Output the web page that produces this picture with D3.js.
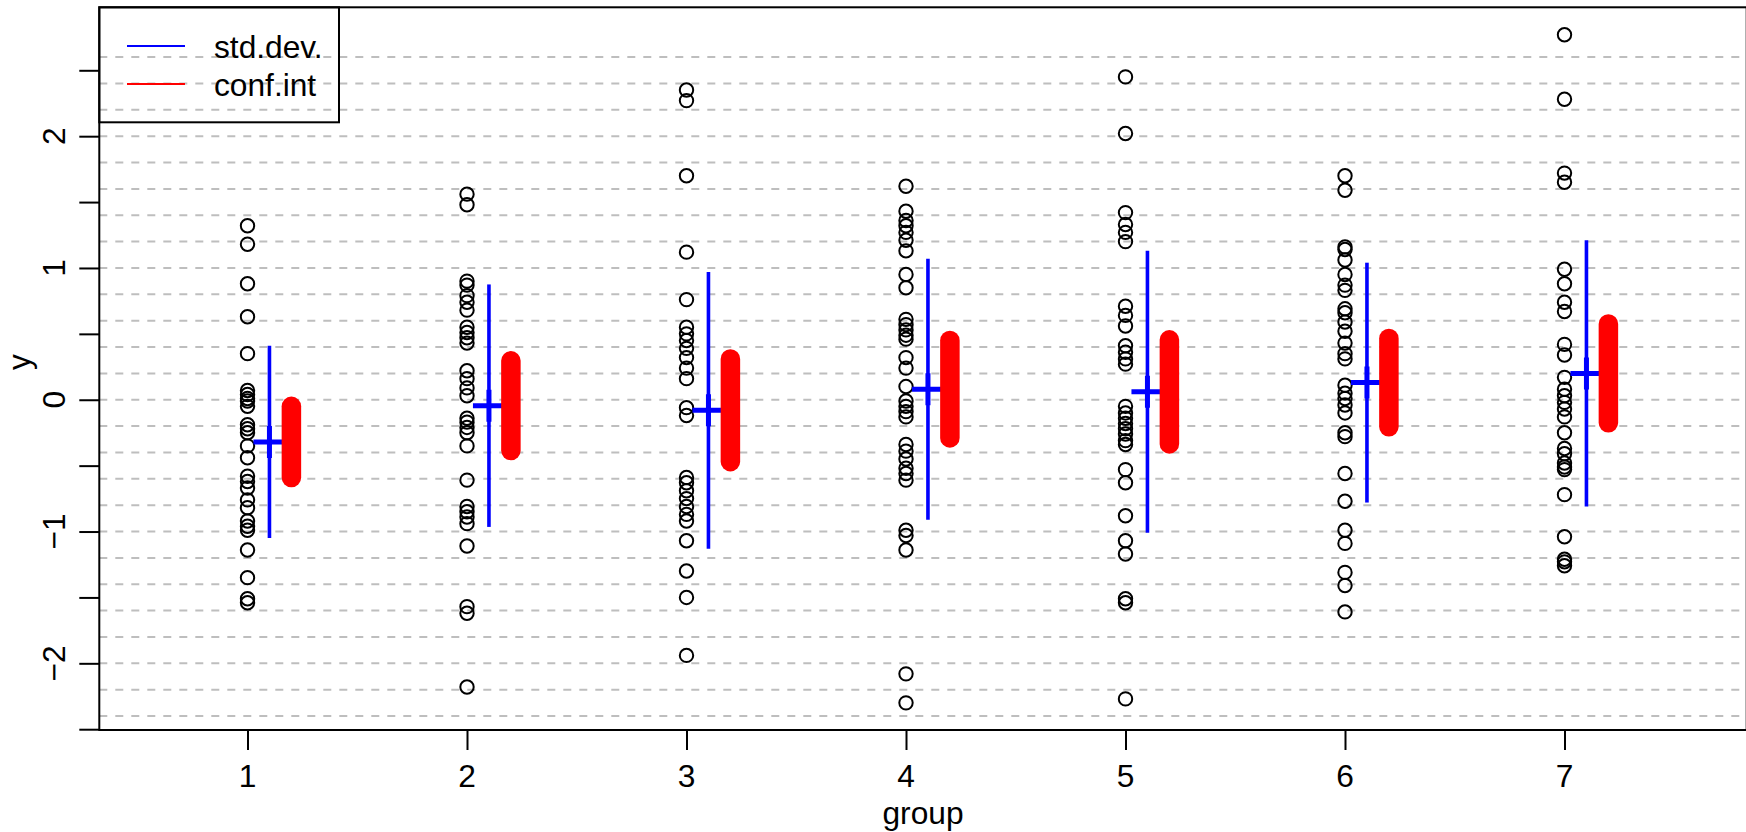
<!DOCTYPE html>
<html>
<head>
<meta charset="utf-8">
<script src="https://cdn.jsdelivr.net/npm/d3@7"></script>
<style>
  html, body { margin: 0; padding: 0; background: #ffffff; }
  svg { display: block; }
  text { font-family: "Liberation Sans", Arial, Helvetica, sans-serif; }
</style>
</head>
<body>
<svg id="chart" width="1746" height="832"></svg>
<script>
// Observations per group
const group1 = [1.32, 1.18, 0.88, 0.63, 0.35, 0.07, 0.04, 0.01, -0.01, -0.05, -0.19, -0.22, -0.25, -0.35, -0.44, -0.58, -0.62, -0.67, -0.76, -0.82, -0.92, -0.96, -0.99, -1.14, -1.35, -1.51, -1.54];
const group2 = [1.56, 1.48, 0.90, 0.87, 0.79, 0.74, 0.68, 0.55, 0.51, 0.47, 0.43, 0.22, 0.16, 0.09, 0.03, -0.14, -0.17, -0.21, -0.25, -0.35, -0.61, -0.81, -0.85, -0.89, -0.94, -1.11, -1.57, -1.62, -2.18];
const group3 = [2.35, 2.27, 1.70, 1.12, 0.76, 0.55, 0.50, 0.45, 0.39, 0.32, 0.24, 0.16, -0.06, -0.12, -0.59, -0.63, -0.69, -0.75, -0.81, -0.87, -0.92, -1.07, -1.30, -1.50, -1.94];
const group4 = [1.62, 1.43, 1.36, 1.32, 1.27, 1.21, 1.13, 0.95, 0.85, 0.61, 0.57, 0.53, 0.49, 0.46, 0.32, 0.24, 0.10, -0.01, -0.05, -0.09, -0.13, -0.34, -0.39, -0.45, -0.52, -0.56, -0.61, -0.99, -1.03, -1.14, -2.08, -2.30];
const group5 = [2.45, 2.02, 1.42, 1.33, 1.27, 1.20, 0.71, 0.64, 0.56, 0.41, 0.36, 0.31, 0.27, -0.05, -0.10, -0.14, -0.18, -0.22, -0.26, -0.31, -0.34, -0.53, -0.63, -0.88, -1.07, -1.17, -1.51, -1.54, -2.27];
const group6 = [1.70, 1.59, 1.16, 1.14, 1.06, 0.95, 0.87, 0.83, 0.69, 0.66, 0.59, 0.52, 0.43, 0.35, 0.31, 0.11, 0.05, 0.01, -0.04, -0.10, -0.25, -0.28, -0.56, -0.77, -0.99, -1.09, -1.31, -1.41, -1.61];
const group7 = [2.77, 2.28, 1.72, 1.65, 0.99, 0.88, 0.74, 0.67, 0.42, 0.34, 0.17, 0.08, 0.03, -0.02, -0.07, -0.13, -0.25, -0.37, -0.41, -0.48, -0.51, -0.53, -0.72, -1.04, -1.21, -1.23, -1.26];

// Group ids and per-group summaries
const groups = [1, 2, 3, 4, 5, 6, 7];
const groupMeans = [-0.32, -0.045, -0.08, 0.08, 0.06, 0.13, 0.20];
const groupSDs = [0.73, 0.92, 1.05, 0.99, 1.07, 0.91, 1.01];
const groupCIHalf = [0.27, 0.34, 0.39, 0.37, 0.395, 0.335, 0.375];

// Axis ticks
const yTicks = [-2.5, -2, -1.5, -1, -0.5, 0, 0.5, 1, 1.5, 2, 2.5];
const yTickLabels = [-2, -1, 0, 1, 2];
const xTickLabels = ["1", "2", "3", "4", "5", "6", "7"];
const legendLabels = ["std.dev.", "conf.int"];
const legendColors = ["#0000ff", "#ff0000"];

const groupValues = [group1, group2, group3, group4, group5, group6, group7];

const svg = d3.select("#chart");
const FONT = 31.7;

const x = d3.scaleLinear().domain([1, 7]).range([247.5, 1564.5]);
const y = d3.scaleLinear().domain([-2.506, 2.978]).range([730, 7.3]);

const plotLeft = 99.3, plotTop = y(2.978), plotBottom = y(-2.506), plotRight = x(7.83);

// dashed horizontal reference lines
const gridLevels = d3.range(-12, 14).map(k => k * 0.2);
svg.append("g")
  .selectAll("line")
  .data(gridLevels)
  .join("line")
  .attr("x1", plotLeft).attr("x2", plotRight)
  .attr("y1", d => y(d)).attr("y2", d => y(d))
  .attr("stroke", "#bebebe")
  .attr("stroke-width", 2)
  .attr("stroke-dasharray", "8,8");

// raw observations
const pts = groups.flatMap((g, i) => groupValues[i].map(v => ({ g, v })));
svg.append("g")
  .selectAll("circle")
  .data(pts)
  .join("circle")
  .attr("cx", d => x(d.g))
  .attr("cy", d => y(d.v))
  .attr("r", 6.7)
  .attr("fill", "none")
  .attr("stroke", "#000")
  .attr("stroke-width", 2);

// mean +/- one standard deviation
const summaries = groups.map((g, i) => ({
  g, m: groupMeans[i], sd: groupSDs[i], ci: groupCIHalf[i]
}));

svg.append("g")
  .selectAll("line")
  .data(summaries)
  .join("line")
  .attr("x1", d => x(d.g + 0.1)).attr("x2", d => x(d.g + 0.1))
  .attr("y1", d => y(d.m - d.sd)).attr("y2", d => y(d.m + d.sd))
  .attr("stroke", "#0000ff")
  .attr("stroke-width", 3.6);

// mean marker
svg.append("g")
  .selectAll("path")
  .data(summaries)
  .join("path")
  .attr("d", d => {
    const cx = x(d.g + 0.1), cy = y(d.m), a = 16;
    return `M${cx - a},${cy}H${cx + a}M${cx},${cy - a}V${cy + a}`;
  })
  .attr("stroke", "#0000ff")
  .attr("stroke-width", 5)
  .attr("fill", "none");

// confidence interval of the mean
svg.append("g")
  .selectAll("line")
  .data(summaries)
  .join("line")
  .attr("x1", d => x(d.g + 0.2)).attr("x2", d => x(d.g + 0.2))
  .attr("y1", d => y(d.m - d.ci)).attr("y2", d => y(d.m + d.ci))
  .attr("stroke", "#ff0000")
  .attr("stroke-width", 19.5)
  .attr("stroke-linecap", "round");

// y axis
const yAxis = d3.axisLeft(y).tickValues(yTicks).tickSize(20).tickSizeOuter(0).tickFormat("");
const gy = svg.append("g").attr("transform", `translate(${plotLeft},0)`).call(yAxis);
gy.select(".domain").remove();
gy.selectAll(".tick line").attr("stroke", "#000").attr("stroke-width", 2);

svg.append("g")
  .selectAll("text")
  .data(yTickLabels)
  .join("text")
  .attr("transform", d => `translate(65,${y(d)}) rotate(-90)`)
  .attr("text-anchor", "middle")
  .attr("font-size", FONT)
  .text(d => d < 0 ? "\u2212" + Math.abs(d) : String(d));

// x axis
const xAxis = d3.axisBottom(x).tickValues(groups).tickSize(20).tickSizeOuter(0).tickFormat("");
const gx = svg.append("g").attr("transform", `translate(0,${plotBottom})`).call(xAxis);
gx.select(".domain").remove();
gx.selectAll(".tick line").attr("stroke", "#000").attr("stroke-width", 2);

svg.append("g")
  .selectAll("text")
  .data(groups)
  .join("text")
  .attr("x", d => x(d))
  .attr("y", 787)
  .attr("text-anchor", "middle")
  .attr("font-size", FONT)
  .text((d, i) => xTickLabels[i]);

// axis titles
svg.append("text")
  .attr("x", (plotLeft + plotRight) / 2).attr("y", 824)
  .attr("text-anchor", "middle")
  .attr("font-size", FONT)
  .text("group");

svg.append("text")
  .attr("transform", `translate(30,362) rotate(-90)`)
  .attr("text-anchor", "middle")
  .attr("font-size", FONT)
  .text("y");

// plot frame
svg.append("rect")
  .attr("x", plotLeft).attr("y", plotTop)
  .attr("width", plotRight - plotLeft).attr("height", plotBottom - plotTop)
  .attr("fill", "none")
  .attr("stroke", "#000")
  .attr("stroke-width", 2);

// legend
const lg = svg.append("g");
lg.append("rect")
  .attr("x", plotLeft).attr("y", plotTop)
  .attr("width", 239.7).attr("height", 115)
  .attr("fill", "none")
  .attr("stroke", "#000")
  .attr("stroke-width", 2);
legendLabels.forEach((lab, i) => {
  const ly = 46 + i * 38;
  lg.append("line")
    .attr("x1", 127).attr("x2", 185)
    .attr("y1", ly).attr("y2", ly)
    .attr("stroke", legendColors[i])
    .attr("stroke-width", 2);
  lg.append("text")
    .attr("x", 214).attr("y", ly + 12)
    .attr("font-size", FONT)
    .text(lab);
});
</script>
</body>
</html>
